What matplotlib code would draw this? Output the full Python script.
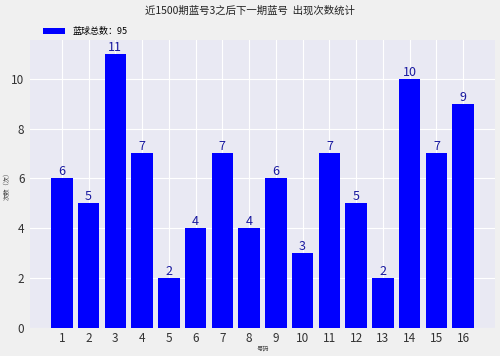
import matplotlib
matplotlib.use('Agg')
import matplotlib.pyplot as plt

plt.rcParams['font.family'] = ['Noto Sans CJK SC', 'DejaVu Sans']
plt.rcParams['axes.unicode_minus'] = False

numbers = list(range(1, 17))
counts = [6, 5, 11, 7, 2, 4, 7, 4, 6, 3, 7, 5, 2, 10, 7, 9]
total = 95

fig = plt.figure(figsize=(5.0, 3.56), dpi=100, facecolor='#f0f0f0')
ax = fig.add_axes([0.06, 0.078, 0.93, 0.81])
ax.set_facecolor('#e9e9f3')
ax.grid(True, color='white', linewidth=0.8)
ax.set_axisbelow(True)
for s in ax.spines.values():
    s.set_visible(False)

bars = ax.bar(numbers, counts, width=0.8, color='blue', label='蓝球总数：%d' % total)
for x, c in zip(numbers, counts):
    ax.text(x, c, str(c), ha='center', va='bottom', color='#1a1aa0', fontsize=9)

ax.set_xticks(numbers)
ax.tick_params(axis='both', length=0, labelsize=8.5, labelcolor='#333333', pad=4)
ax.tick_params(axis='x', pad=3)
ax.set_xlabel('号码', fontsize=4.5, color='#444444')
ax.set_ylabel('次数（次）', fontsize=4.5, color='#444444')
ax.xaxis.set_label_coords(0.5, -0.056)
ax.yaxis.set_label_coords(-0.041, 0.5)

fig.suptitle('近1500期蓝号3之后下一期蓝号  出现次数统计', fontsize=7.5, y=0.985, color='#222222')
ax.legend(loc='lower left', bbox_to_anchor=(0.02, 1.0), frameon=False, fontsize=6.5,
          handlelength=2.5, borderaxespad=0)

fig.savefig('out.png', dpi=100, facecolor=fig.get_facecolor())
